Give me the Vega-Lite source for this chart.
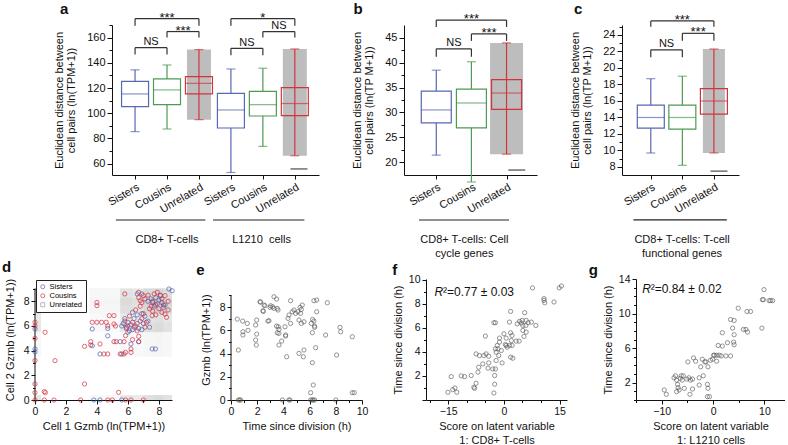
{
"$schema": "https://vega.github.io/schema/vega-lite/v6.json",
"padding": {"left": 2, "top": 2, "right": 0, "bottom": 0},
"spacing": 0,
"bounds": "full",
"resolve": {"scale": {"color": "independent", "shape": "independent"}, "legend": {"color": "independent", "shape": "independent"}},
"config": {
  "view": {"stroke": null},
  "font": "Liberation Sans",
  "axis": {"labelFont": "Liberation Sans", "titleFont": "Liberation Sans", "labelFontSize": 10.5, "titleFontSize": 11, "titleFontWeight": "normal", "labelColor": "#111", "titleColor": "#111", "domainColor": "#111", "tickColor": "#111", "grid": false, "tickSize": 4, "labelPadding": 2, "labelOverlap": false, "labelBound": false, "labelFlush": false, "tickCount": 100},
  "text": {"font": "Liberation Sans", "color": "#111"}
},
"vconcat": [
 {"spacing": 0, "bounds": "flush",
  "resolve": {"scale": {"color": "independent", "shape": "independent"}, "legend": {"color": "independent", "shape": "independent"}},
  "hconcat": [
 {"width": 77, "height": 150, "data": {"values": []}, "mark": "point"},
 {"width": 207, "height": 150,
  "data": {"values": [
    {"x":1,"grp":"Sisters","min":85.4,"q1":105.2,"med":115.3,"q3":125.3,"max":134.4},
    {"x":2,"grp":"Cousins","min":87.5,"q1":106.8,"med":118.5,"q3":127.2,"max":138.3},
    {"x":3,"grp":"Unrelated","min":94.9,"q1":115.3,"med":123.7,"q3":129,"max":150.5},
    {"x":4,"grp":"Sisters","min":53,"q1":88.3,"med":102.6,"q3":115.8,"max":135.1},
    {"x":5,"grp":"Cousins","min":73.7,"q1":97.8,"med":106.8,"q3":117.4,"max":135.7},
    {"x":6,"grp":"Unrelated","min":66.3,"q1":98.1,"med":107.7,"q3":120.3,"max":151}]},
  "layer": [
   {"transform": [{"filter": "datum.grp == 'Unrelated'"}], "mark": {"type": "bar", "size": 24, "color": "#bdbdbd"},
    "encoding": {
     "x": {"field": "x", "type": "quantitative", "scale": {"domain": [0.435, 6.6], "nice": false, "zero": false}, "axis": {"values": [1,2,3,4,5,6], "tickCount": 100, "labelExpr": "['Sisters','Cousins','Unrelated'][(datum.value - 1) % 3]", "labelAngle": -30, "labelAlign": "right", "labelBaseline": "top", "labelFontSize": 11, "labelOverlap": false, "title": null}},
     "y": {"field": "min", "type": "quantitative", "scale": {"domain": [51, 170], "nice": false, "zero": false}, "axis": {"values": [60,70,80,90,100,110,120,130,140,150,160,170], "tickCount": 100, "format": "d", "labelExpr": "datum.value % 20 == 0 ? datum.label : ''", "tickSize": {"condition": {"test": "datum.value % 20 == 0", "value": 5}, "value": 3}, "labelFontSize": 11, "labelOverlap": false, "title": ["Euclidean distance between", "cell pairs (ln(TPM+1))"], "titlePadding": 10, "titleLineHeight": 12.5}},
     "y2": {"field": "max"}}},
   {"mark": {"type": "rule", "strokeWidth": 1.2}, "encoding": {"x": {"field": "x", "type": "quantitative"}, "y": {"field": "min", "type": "quantitative"}, "y2": {"field": "q1"}, "color": {"field": "grp", "type": "nominal", "scale": {"domain": ["Sisters","Cousins","Unrelated"], "range": ["#5767b3","#4d9a52","#d2343e"]}, "legend": null}}},
   {"mark": {"type": "rule", "strokeWidth": 1.2}, "encoding": {"x": {"field": "x", "type": "quantitative"}, "y": {"field": "q3", "type": "quantitative"}, "y2": {"field": "max"}, "color": {"field": "grp", "type": "nominal", "legend": null}}},
   {"transform": [{"filter": "datum.grp == 'Unrelated'"}], "mark": {"type": "rule", "strokeWidth": 1.2}, "encoding": {"x": {"field": "x", "type": "quantitative"}, "y": {"field": "q1", "type": "quantitative"}, "y2": {"field": "q3"}, "color": {"field": "grp", "type": "nominal", "legend": null}}},
   {"mark": {"type": "bar", "size": 27, "filled": false, "strokeWidth": 1.2}, "encoding": {"x": {"field": "x", "type": "quantitative"}, "y": {"field": "q1", "type": "quantitative"}, "y2": {"field": "q3"}, "color": {"field": "grp", "type": "nominal", "legend": null}}},
   {"mark": {"type": "tick", "orient": "horizontal", "size": 27, "thickness": 1.2}, "encoding": {"x": {"field": "x", "type": "quantitative"}, "y": {"field": "med", "type": "quantitative"}, "color": {"field": "grp", "type": "nominal", "legend": null}}},
   {"mark": {"type": "tick", "orient": "horizontal", "size": 9, "thickness": 1.2}, "encoding": {"x": {"field": "x", "type": "quantitative"}, "y": {"field": "min", "type": "quantitative"}, "color": {"field": "grp", "type": "nominal", "legend": null}}},
   {"mark": {"type": "tick", "orient": "horizontal", "size": 9, "thickness": 1.2}, "encoding": {"x": {"field": "x", "type": "quantitative"}, "y": {"field": "max", "type": "quantitative"}, "color": {"field": "grp", "type": "nominal", "legend": null}}},
   {"data": {"values": [{"x": 6.13, "y": 55.8}]}, "mark": {"type": "tick", "orient": "horizontal", "size": 17, "thickness": 1.3, "color": "#111"}, "encoding": {"x": {"field": "x", "type": "quantitative"}, "y": {"field": "y", "type": "quantitative"}}},
   {"data": {"values": [
     {"x1":1,"x2":3,"y":175,"yb":169.5,"label":"***","lx":2},
     {"x1":2,"x2":3,"y":164.8,"yb":160,"label":"***","lx":2.5},
     {"x1":1,"x2":2,"y":152,"yb":146.5,"label":"NS","lx":1.5},
     {"x1":4,"x2":6,"y":175,"yb":169.5,"label":"*","lx":5},
     {"x1":5,"x2":6,"y":164.8,"yb":160,"label":"NS","lx":5.5},
     {"x1":4,"x2":5,"y":151.5,"yb":146,"label":"NS","lx":4.5}]},
    "layer": [
     {"mark": {"type": "rule", "strokeWidth": 1.2, "color": "#333"}, "encoding": {"x": {"field": "x1", "type": "quantitative"}, "x2": {"field": "x2"}, "y": {"field": "y", "type": "quantitative"}}},
     {"mark": {"type": "rule", "strokeWidth": 1.2, "color": "#333"}, "encoding": {"x": {"field": "x1", "type": "quantitative"}, "y": {"field": "y", "type": "quantitative"}, "y2": {"field": "yb"}}},
     {"mark": {"type": "rule", "strokeWidth": 1.2, "color": "#333"}, "encoding": {"x": {"field": "x2", "type": "quantitative"}, "y": {"field": "y", "type": "quantitative"}, "y2": {"field": "yb"}}},
     {"transform": [{"filter": "datum.label == 'NS'"}], "mark": {"type": "text", "fontSize": 11, "dy": -2.5, "baseline": "alphabetic"}, "encoding": {"x": {"field": "lx", "type": "quantitative"}, "y": {"field": "y", "type": "quantitative"}, "text": {"field": "label"}}},
     {"transform": [{"filter": "datum.label != 'NS'"}], "mark": {"type": "text", "fontSize": 13, "dy": 3, "baseline": "alphabetic"}, "encoding": {"x": {"field": "lx", "type": "quantitative"}, "y": {"field": "y", "type": "quantitative"}, "text": {"field": "label"}}}
    ]},
   {"data": {"values": [
     {"x1":0.4,"x2":3.2,"y":15.3,"lx":2,"ly":-2.95,"label":"CD8+ T-cells"},
     {"x1":3.44,"x2":6.3,"y":15.3,"lx":4.96,"ly":-2.95,"label":"L1210\u00a0 cells"}]},
    "layer": [
     {"mark": {"type": "rule", "strokeWidth": 1.2, "color": "#222"}, "encoding": {"x": {"field": "x1", "type": "quantitative"}, "x2": {"field": "x2"}, "y": {"field": "y", "type": "quantitative"}}},
     {"mark": {"type": "text", "fontSize": 11, "baseline": "alphabetic", "align": "center"}, "encoding": {"x": {"field": "lx", "type": "quantitative"}, "y": {"field": "ly", "type": "quantitative"}, "text": {"field": "label"}}}
    ]},
   {"data": {"values": [{"x": -1.35, "y": 178.7, "t": "a"}]}, "mark": {"type": "text", "fontSize": 15, "fontWeight": "bold", "align": "left", "baseline": "alphabetic"}, "encoding": {"x": {"field": "x", "type": "quantitative"}, "y": {"field": "y", "type": "quantitative"}, "text": {"field": "t"}}}
  ]},
 {"width": 85, "height": 150, "data": {"values": []}, "mark": "point"},
 {"width": 133, "height": 150,
  "data": {"values": [
    {"x":1,"grp":"Sisters","min":21.4,"q1":27.9,"med":30.5,"q3":34.3,"max":38.5},
    {"x":2,"grp":"Cousins","min":16.0,"q1":26.9,"med":31.9,"q3":34.7,"max":40.2},
    {"x":3,"grp":"Unrelated","min":21.6,"q1":30.6,"med":33.9,"q3":36.6,"max":44.0}]},
  "layer": [
   {"transform": [{"filter": "datum.grp == 'Unrelated'"}], "mark": {"type": "bar", "size": 33, "color": "#bdbdbd"},
    "encoding": {
     "x": {"field": "x", "type": "quantitative", "scale": {"domain": [0.224, 3.724], "nice": false, "zero": false}, "axis": {"values": [1,2,3], "tickCount": 100, "labelExpr": "['Sisters','Cousins','Unrelated'][(datum.value - 1) % 3]", "labelAngle": -30, "labelAlign": "right", "labelBaseline": "top", "labelFontSize": 11, "labelOverlap": false, "title": null}},
     "y": {"field": "min", "type": "quantitative", "scale": {"domain": [17.4, 47.6], "nice": false, "zero": false}, "axis": {"values": [20,22.5,25,27.5,30,32.5,35,37.5,40,42.5,45], "tickCount": 100, "format": "d", "labelExpr": "datum.value % 5 == 0 ? datum.label : ''", "tickSize": {"condition": {"test": "datum.value % 5 == 0", "value": 5}, "value": 3}, "labelFontSize": 11, "labelOverlap": false, "title": ["Euclidean distance between", "cell pairs (ln(TP M+1))"], "titlePadding": 10, "titleLineHeight": 12.5}},
     "y2": {"field": "max"}}},
   {"mark": {"type": "rule", "strokeWidth": 1.2}, "encoding": {"x": {"field": "x", "type": "quantitative"}, "y": {"field": "min", "type": "quantitative"}, "y2": {"field": "q1"}, "color": {"field": "grp", "type": "nominal", "scale": {"domain": ["Sisters","Cousins","Unrelated"], "range": ["#5767b3","#4d9a52","#d2343e"]}, "legend": null}}},
   {"mark": {"type": "rule", "strokeWidth": 1.2}, "encoding": {"x": {"field": "x", "type": "quantitative"}, "y": {"field": "q3", "type": "quantitative"}, "y2": {"field": "max"}, "color": {"field": "grp", "type": "nominal", "legend": null}}},
   {"transform": [{"filter": "datum.grp == 'Unrelated'"}], "mark": {"type": "rule", "strokeWidth": 1.2}, "encoding": {"x": {"field": "x", "type": "quantitative"}, "y": {"field": "q1", "type": "quantitative"}, "y2": {"field": "q3"}, "color": {"field": "grp", "type": "nominal", "legend": null}}},
   {"mark": {"type": "bar", "size": 30, "filled": false, "strokeWidth": 1.2}, "encoding": {"x": {"field": "x", "type": "quantitative"}, "y": {"field": "q1", "type": "quantitative"}, "y2": {"field": "q3"}, "color": {"field": "grp", "type": "nominal", "legend": null}}},
   {"mark": {"type": "tick", "orient": "horizontal", "size": 30, "thickness": 1.2}, "encoding": {"x": {"field": "x", "type": "quantitative"}, "y": {"field": "med", "type": "quantitative"}, "color": {"field": "grp", "type": "nominal", "legend": null}}},
   {"mark": {"type": "tick", "orient": "horizontal", "size": 9, "thickness": 1.2}, "encoding": {"x": {"field": "x", "type": "quantitative"}, "y": {"field": "min", "type": "quantitative"}, "color": {"field": "grp", "type": "nominal", "legend": null}}},
   {"mark": {"type": "tick", "orient": "horizontal", "size": 9, "thickness": 1.2}, "encoding": {"x": {"field": "x", "type": "quantitative"}, "y": {"field": "max", "type": "quantitative"}, "color": {"field": "grp", "type": "nominal", "legend": null}}},
   {"data": {"values": [{"x": 3.29, "y": 18.4}]}, "mark": {"type": "tick", "orient": "horizontal", "size": 17, "thickness": 1.3, "color": "#111"}, "encoding": {"x": {"field": "x", "type": "quantitative"}, "y": {"field": "y", "type": "quantitative"}}},
   {"data": {"values": [
     {"x1":1,"x2":3,"y":48.6,"yb":47.2,"label":"***","lx":2},
     {"x1":2,"x2":3,"y":45.8,"yb":44.4,"label":"***","lx":2.5},
     {"x1":1,"x2":2,"y":42.8,"yb":41.2,"label":"NS","lx":1.5}]},
    "layer": [
     {"mark": {"type": "rule", "strokeWidth": 1.2, "color": "#333"}, "encoding": {"x": {"field": "x1", "type": "quantitative"}, "x2": {"field": "x2"}, "y": {"field": "y", "type": "quantitative"}}},
     {"mark": {"type": "rule", "strokeWidth": 1.2, "color": "#333"}, "encoding": {"x": {"field": "x1", "type": "quantitative"}, "y": {"field": "y", "type": "quantitative"}, "y2": {"field": "yb"}}},
     {"mark": {"type": "rule", "strokeWidth": 1.2, "color": "#333"}, "encoding": {"x": {"field": "x2", "type": "quantitative"}, "y": {"field": "y", "type": "quantitative"}, "y2": {"field": "yb"}}},
     {"transform": [{"filter": "datum.label == 'NS'"}], "mark": {"type": "text", "fontSize": 11, "dy": -2.5, "baseline": "alphabetic"}, "encoding": {"x": {"field": "lx", "type": "quantitative"}, "y": {"field": "y", "type": "quantitative"}, "text": {"field": "label"}}},
     {"transform": [{"filter": "datum.label != 'NS'"}], "mark": {"type": "text", "fontSize": 13, "dy": 3, "baseline": "alphabetic"}, "encoding": {"x": {"field": "lx", "type": "quantitative"}, "y": {"field": "y", "type": "quantitative"}, "text": {"field": "label"}}}
    ]},
   {"data": {"values": [{"x1":0.51,"x2":3.07,"y":8.34,"lx":1.8,"ly":3.71,"label":"CD8+ T-cells: Cell\ncycle genes"}]},
    "layer": [
     {"mark": {"type": "rule", "strokeWidth": 1.2, "color": "#222"}, "encoding": {"x": {"field": "x1", "type": "quantitative"}, "x2": {"field": "x2"}, "y": {"field": "y", "type": "quantitative"}}},
     {"mark": {"type": "text", "fontSize": 11, "baseline": "alphabetic", "align": "center", "lineBreak": "\n", "lineHeight": 14}, "encoding": {"x": {"field": "lx", "type": "quantitative"}, "y": {"field": "ly", "type": "quantitative"}, "text": {"field": "label"}}}
    ]},
   {"data": {"values": [{"x": -1.355, "y": 49.8, "t": "b"}]}, "mark": {"type": "text", "fontSize": 15, "fontWeight": "bold", "align": "left", "baseline": "alphabetic"}, "encoding": {"x": {"field": "x", "type": "quantitative"}, "y": {"field": "y", "type": "quantitative"}, "text": {"field": "t"}}}
  ]},
 {"width": 85, "height": 150, "data": {"values": []}, "mark": "point"},
 {"width": 117, "height": 150,
  "data": {"values": [
    {"x":1,"grp":"Sisters","min":9.7,"q1":12.7,"med":14.0,"q3":15.5,"max":18.7},
    {"x":2,"grp":"Cousins","min":8.2,"q1":12.6,"med":14.0,"q3":15.5,"max":19.0},
    {"x":3,"grp":"Unrelated","min":9.7,"q1":14.4,"med":16.0,"q3":17.5,"max":22.3}]},
  "layer": [
   {"transform": [{"filter": "datum.grp == 'Unrelated'"}], "mark": {"type": "bar", "size": 22, "color": "#bdbdbd"},
    "encoding": {
     "x": {"field": "x", "type": "quantitative", "scale": {"domain": [0.246, 3.637], "nice": false, "zero": false}, "axis": {"values": [1,2,3], "tickCount": 100, "labelExpr": "['Sisters','Cousins','Unrelated'][(datum.value - 1) % 3]", "labelAngle": -30, "labelAlign": "right", "labelBaseline": "top", "labelFontSize": 11, "labelOverlap": false, "title": null}},
     "y": {"field": "min", "type": "quantitative", "scale": {"domain": [7.03, 25.21], "nice": false, "zero": false}, "axis": {"values": [8,9,10,11,12,13,14,15,16,17,18,19,20,21,22,23,24,25], "tickCount": 100, "format": "d", "labelExpr": "datum.value % 2 == 0 ? datum.label : ''", "tickSize": {"condition": {"test": "datum.value % 2 == 0", "value": 5}, "value": 3}, "labelFontSize": 11, "labelOverlap": false, "title": ["Euclidean distance between", "cell pairs (ln(TP M+1))"], "titlePadding": 10, "titleLineHeight": 12.5}},
     "y2": {"field": "max"}}},
   {"mark": {"type": "rule", "strokeWidth": 1.2}, "encoding": {"x": {"field": "x", "type": "quantitative"}, "y": {"field": "min", "type": "quantitative"}, "y2": {"field": "q1"}, "color": {"field": "grp", "type": "nominal", "scale": {"domain": ["Sisters","Cousins","Unrelated"], "range": ["#5767b3","#4d9a52","#d2343e"]}, "legend": null}}},
   {"mark": {"type": "rule", "strokeWidth": 1.2}, "encoding": {"x": {"field": "x", "type": "quantitative"}, "y": {"field": "q3", "type": "quantitative"}, "y2": {"field": "max"}, "color": {"field": "grp", "type": "nominal", "legend": null}}},
   {"transform": [{"filter": "datum.grp == 'Unrelated'"}], "mark": {"type": "rule", "strokeWidth": 1.2}, "encoding": {"x": {"field": "x", "type": "quantitative"}, "y": {"field": "q1", "type": "quantitative"}, "y2": {"field": "q3"}, "color": {"field": "grp", "type": "nominal", "legend": null}}},
   {"mark": {"type": "bar", "size": 27, "filled": false, "strokeWidth": 1.2}, "encoding": {"x": {"field": "x", "type": "quantitative"}, "y": {"field": "q1", "type": "quantitative"}, "y2": {"field": "q3"}, "color": {"field": "grp", "type": "nominal", "legend": null}}},
   {"mark": {"type": "tick", "orient": "horizontal", "size": 27, "thickness": 1.2}, "encoding": {"x": {"field": "x", "type": "quantitative"}, "y": {"field": "med", "type": "quantitative"}, "color": {"field": "grp", "type": "nominal", "legend": null}}},
   {"mark": {"type": "tick", "orient": "horizontal", "size": 9, "thickness": 1.2}, "encoding": {"x": {"field": "x", "type": "quantitative"}, "y": {"field": "min", "type": "quantitative"}, "color": {"field": "grp", "type": "nominal", "legend": null}}},
   {"mark": {"type": "tick", "orient": "horizontal", "size": 9, "thickness": 1.2}, "encoding": {"x": {"field": "x", "type": "quantitative"}, "y": {"field": "max", "type": "quantitative"}, "color": {"field": "grp", "type": "nominal", "legend": null}}},
   {"data": {"values": [{"x": 3.16, "y": 7.5}]}, "mark": {"type": "tick", "orient": "horizontal", "size": 17, "thickness": 1.3, "color": "#111"}, "encoding": {"x": {"field": "x", "type": "quantitative"}, "y": {"field": "y", "type": "quantitative"}}},
   {"data": {"values": [
     {"x1":1,"x2":3,"y":25.7,"yb":25.0,"label":"***","lx":2},
     {"x1":2,"x2":3,"y":24.2,"yb":23.3,"label":"***","lx":2.5},
     {"x1":1,"x2":2,"y":22.2,"yb":21.3,"label":"NS","lx":1.5}]},
    "layer": [
     {"mark": {"type": "rule", "strokeWidth": 1.2, "color": "#333"}, "encoding": {"x": {"field": "x1", "type": "quantitative"}, "x2": {"field": "x2"}, "y": {"field": "y", "type": "quantitative"}}},
     {"mark": {"type": "rule", "strokeWidth": 1.2, "color": "#333"}, "encoding": {"x": {"field": "x1", "type": "quantitative"}, "y": {"field": "y", "type": "quantitative"}, "y2": {"field": "yb"}}},
     {"mark": {"type": "rule", "strokeWidth": 1.2, "color": "#333"}, "encoding": {"x": {"field": "x2", "type": "quantitative"}, "y": {"field": "y", "type": "quantitative"}, "y2": {"field": "yb"}}},
     {"transform": [{"filter": "datum.label == 'NS'"}], "mark": {"type": "text", "fontSize": 11, "dy": -2.5, "baseline": "alphabetic"}, "encoding": {"x": {"field": "lx", "type": "quantitative"}, "y": {"field": "y", "type": "quantitative"}, "text": {"field": "label"}}},
     {"transform": [{"filter": "datum.label != 'NS'"}], "mark": {"type": "text", "fontSize": 13, "dy": 3, "baseline": "alphabetic"}, "encoding": {"x": {"field": "lx", "type": "quantitative"}, "y": {"field": "y", "type": "quantitative"}, "text": {"field": "label"}}}
    ]},
   {"data": {"values": [{"x1":0.45,"x2":3.41,"y":1.58,"lx":1.99,"ly":-1.21,"label":"CD8+ T-cells: T-cell\nfunctional genes"}]},
    "layer": [
     {"mark": {"type": "rule", "strokeWidth": 1.2, "color": "#222"}, "encoding": {"x": {"field": "x1", "type": "quantitative"}, "x2": {"field": "x2"}, "y": {"field": "y", "type": "quantitative"}}},
     {"mark": {"type": "text", "fontSize": 11, "baseline": "alphabetic", "align": "center", "lineBreak": "\n", "lineHeight": 14}, "encoding": {"x": {"field": "lx", "type": "quantitative"}, "y": {"field": "ly", "type": "quantitative"}, "text": {"field": "label"}}}
    ]},
   {"data": {"values": [{"x": -1.43, "y": 26.53, "t": "c"}]}, "mark": {"type": "text", "fontSize": 15, "fontWeight": "bold", "align": "left", "baseline": "alphabetic"}, "encoding": {"x": {"field": "x", "type": "quantitative"}, "y": {"field": "y", "type": "quantitative"}, "text": {"field": "t"}}}
  ]}
 ]},
 {"spacing": 0, "bounds": "flush",
  "resolve": {"scale": {"color": "independent", "shape": "independent"}, "legend": {"color": "independent", "shape": "independent"}},
  "hconcat": [
 {"width": 137, "height": 121,
  "layer": [
   {"data": {"values": [
     {"x1":0,"x2":0.4,"y1":0,"y2":0.4,"o":0.098},{"x1":3.5,"x2":5.5,"y1":0,"y2":0.4,"o":0.028},{"x1":5.5,"x2":6.3,"y1":0,"y2":0.4,"o":0.098},{"x1":6.3,"x2":7.0,"y1":0,"y2":0.4,"o":0.084},{"x1":7.0,"x2":7.7,"y1":0,"y2":0.4,"o":0.126},{"x1":7.7,"x2":8.3,"y1":0,"y2":0.4,"o":0.14},{"x1":8.3,"x2":8.85,"y1":0,"y2":0.4,"o":0.112},
     {"x1":0,"x2":0.4,"y1":3.5,"y2":5.5,"o":0.028},{"x1":3.5,"x2":5.5,"y1":3.5,"y2":5.5,"o":0.008},{"x1":5.5,"x2":6.3,"y1":3.5,"y2":5.5,"o":0.028},{"x1":6.3,"x2":7.0,"y1":3.5,"y2":5.5,"o":0.024},{"x1":7.0,"x2":7.7,"y1":3.5,"y2":5.5,"o":0.036},{"x1":7.7,"x2":8.3,"y1":3.5,"y2":5.5,"o":0.04},{"x1":8.3,"x2":8.85,"y1":3.5,"y2":5.5,"o":0.032},
     {"x1":0,"x2":0.4,"y1":5.5,"y2":6.3,"o":0.098},{"x1":3.5,"x2":5.5,"y1":5.5,"y2":6.3,"o":0.028},{"x1":5.5,"x2":6.3,"y1":5.5,"y2":6.3,"o":0.098},{"x1":6.3,"x2":7.0,"y1":5.5,"y2":6.3,"o":0.084},{"x1":7.0,"x2":7.7,"y1":5.5,"y2":6.3,"o":0.126},{"x1":7.7,"x2":8.3,"y1":5.5,"y2":6.3,"o":0.14},{"x1":8.3,"x2":8.85,"y1":5.5,"y2":6.3,"o":0.112},
     {"x1":0,"x2":0.4,"y1":6.3,"y2":7.0,"o":0.084},{"x1":3.5,"x2":5.5,"y1":6.3,"y2":7.0,"o":0.024},{"x1":5.5,"x2":6.3,"y1":6.3,"y2":7.0,"o":0.084},{"x1":6.3,"x2":7.0,"y1":6.3,"y2":7.0,"o":0.072},{"x1":7.0,"x2":7.7,"y1":6.3,"y2":7.0,"o":0.108},{"x1":7.7,"x2":8.3,"y1":6.3,"y2":7.0,"o":0.12},{"x1":8.3,"x2":8.85,"y1":6.3,"y2":7.0,"o":0.096},
     {"x1":0,"x2":0.4,"y1":7.0,"y2":7.7,"o":0.126},{"x1":3.5,"x2":5.5,"y1":7.0,"y2":7.7,"o":0.036},{"x1":5.5,"x2":6.3,"y1":7.0,"y2":7.7,"o":0.126},{"x1":6.3,"x2":7.0,"y1":7.0,"y2":7.7,"o":0.108},{"x1":7.0,"x2":7.7,"y1":7.0,"y2":7.7,"o":0.162},{"x1":7.7,"x2":8.3,"y1":7.0,"y2":7.7,"o":0.18},{"x1":8.3,"x2":8.85,"y1":7.0,"y2":7.7,"o":0.144},
     {"x1":0,"x2":0.4,"y1":7.7,"y2":8.3,"o":0.14},{"x1":3.5,"x2":5.5,"y1":7.7,"y2":8.3,"o":0.04},{"x1":5.5,"x2":6.3,"y1":7.7,"y2":8.3,"o":0.14},{"x1":6.3,"x2":7.0,"y1":7.7,"y2":8.3,"o":0.12},{"x1":7.0,"x2":7.7,"y1":7.7,"y2":8.3,"o":0.18},{"x1":7.7,"x2":8.3,"y1":7.7,"y2":8.3,"o":0.2},{"x1":8.3,"x2":8.85,"y1":7.7,"y2":8.3,"o":0.16},
     {"x1":0,"x2":0.4,"y1":8.3,"y2":9.05,"o":0.112},{"x1":3.5,"x2":5.5,"y1":8.3,"y2":9.05,"o":0.032},{"x1":5.5,"x2":6.3,"y1":8.3,"y2":9.05,"o":0.112},{"x1":6.3,"x2":7.0,"y1":8.3,"y2":9.05,"o":0.096},{"x1":7.0,"x2":7.7,"y1":8.3,"y2":9.05,"o":0.144},{"x1":7.7,"x2":8.3,"y1":8.3,"y2":9.05,"o":0.16},{"x1":8.3,"x2":8.85,"y1":8.3,"y2":9.05,"o":0.128}]},
    "mark": {"type": "rect", "color": "#000"},
    "encoding": {
     "x": {"field": "x1", "type": "quantitative", "scale": {"domain": [0, 8.85], "nice": false, "zero": false}, "axis": {"values": [0,1,2,3,4,5,6,7,8], "tickCount": 100, "format": "d", "labelExpr": "datum.value % 2 == 0 ? datum.label : ''", "tickSize": {"condition": {"test": "datum.value % 2 == 0", "value": 4}, "value": 2.5}, "labelOverlap": false, "title": "Cell 1 Gzmb (ln(TPM+1))"}},
     "x2": {"field": "x2"},
     "y": {"field": "y1", "type": "quantitative", "scale": {"domain": [0, 9.81], "nice": false, "zero": false}, "axis": {"values": [0,1,2,3,4,5,6,7,8,9], "tickCount": 100, "format": "d", "labelExpr": "datum.value % 2 == 0 ? datum.label : ''", "tickSize": {"condition": {"test": "datum.value % 2 == 0", "value": 4}, "value": 2.5}, "labelOverlap": false, "domain": false, "title": "Cell 2 Gzmb (ln(TPM+1))", "titlePadding": 8}},
     "y2": {"field": "y2"},
     "opacity": {"field": "o", "type": "quantitative", "scale": null}}},
   {"data": {"values": [{}]}, "mark": {"type": "rule", "color": "#111", "strokeWidth": 1}, "encoding": {"x": {"datum": 0, "type": "quantitative"}, "y": {"datum": 0, "type": "quantitative"}, "y2": {"datum": 9.05}}},
   {"data": {"values": [
     {"x":0,"y":5.76,"grp":"Sisters"},{"x":0,"y":4.14,"grp":"Sisters"},{"x":0,"y":3.9,"grp":"Sisters"},{"x":3.8,"y":0,"grp":"Sisters"},{"x":4.2,"y":0,"grp":"Sisters"},{"x":5.6,"y":0,"grp":"Sisters"},{"x":3.7,"y":5.76,"grp":"Sisters"},{"x":3.7,"y":4.4,"grp":"Sisters"},{"x":4.2,"y":3.73,"grp":"Sisters"},{"x":4.7,"y":5.2,"grp":"Sisters"},{"x":4.7,"y":5.8,"grp":"Sisters"},{"x":5.5,"y":4.73,"grp":"Sisters"},{"x":5.6,"y":3.73,"grp":"Sisters"},{"x":6.2,"y":4.54,"grp":"Sisters"},{"x":5.6,"y":6.0,"grp":"Sisters"},{"x":6.6,"y":8.6,"grp":"Sisters"},{"x":6.9,"y":8.6,"grp":"Sisters"},{"x":8.65,"y":9.0,"grp":"Sisters"},{"x":8.86,"y":8.86,"grp":"Sisters"},{"x":7.57,"y":4.14,"grp":"Sisters"},{"x":7.78,"y":4.14,"grp":"Sisters"},{"x":6.7,"y":4.73,"grp":"Sisters"},{"x":7.5,"y":8.2,"grp":"Sisters"},{"x":7.7,"y":7.6,"grp":"Sisters"},{"x":7.9,"y":7.8,"grp":"Sisters"},{"x":8.0,"y":8.1,"grp":"Sisters"},{"x":8.2,"y":7.9,"grp":"Sisters"},{"x":8.3,"y":7.5,"grp":"Sisters"},{"x":7.6,"y":7.9,"grp":"Sisters"},{"x":8.1,"y":8.5,"grp":"Sisters"},{"x":7.3,"y":8.0,"grp":"Sisters"},{"x":7.8,"y":8.3,"grp":"Sisters"},{"x":8.4,"y":7.7,"grp":"Sisters"},{"x":5.9,"y":5.9,"grp":"Sisters"},{"x":6.0,"y":6.3,"grp":"Sisters"},{"x":6.2,"y":6.1,"grp":"Sisters"},{"x":6.3,"y":5.7,"grp":"Sisters"},{"x":6.4,"y":6.6,"grp":"Sisters"},{"x":6.5,"y":6.0,"grp":"Sisters"},{"x":6.6,"y":6.9,"grp":"Sisters"},{"x":6.8,"y":6.4,"grp":"Sisters"},{"x":6.9,"y":7.0,"grp":"Sisters"},{"x":7.0,"y":6.2,"grp":"Sisters"},{"x":6.1,"y":5.6,"grp":"Sisters"},{"x":6.7,"y":5.8,"grp":"Sisters"},{"x":5.8,"y":6.6,"grp":"Sisters"},{"x":6.3,"y":7.1,"grp":"Sisters"},{"x":7.1,"y":6.8,"grp":"Sisters"},{"x":5.7,"y":6.2,"grp":"Sisters"},{"x":6.0,"y":5.5,"grp":"Sisters"},{"x":6.9,"y":5.7,"grp":"Sisters"},{"x":7.3,"y":6.4,"grp":"Sisters"},{"x":7.4,"y":5.9,"grp":"Sisters"},
     {"x":0,"y":6.3,"grp":"Cousins"},{"x":0,"y":6.0,"grp":"Cousins"},{"x":0,"y":5.0,"grp":"Cousins"},{"x":0,"y":3.2,"grp":"Cousins"},{"x":0,"y":1.3,"grp":"Cousins"},{"x":0,"y":0.6,"grp":"Cousins"},{"x":0,"y":0,"grp":"Cousins"},{"x":0.65,"y":5.49,"grp":"Cousins"},{"x":1.29,"y":3.19,"grp":"Cousins"},{"x":0.6,"y":0.68,"grp":"Cousins"},{"x":0.67,"y":0.6,"grp":"Cousins"},{"x":0.6,"y":0,"grp":"Cousins"},{"x":1.23,"y":0,"grp":"Cousins"},{"x":3.2,"y":4.35,"grp":"Cousins"},{"x":3.2,"y":1.3,"grp":"Cousins"},{"x":2.95,"y":0,"grp":"Cousins"},{"x":4.7,"y":0,"grp":"Cousins"},{"x":5.4,"y":0.62,"grp":"Cousins"},{"x":5.0,"y":0,"grp":"Cousins"},{"x":5.85,"y":0,"grp":"Cousins"},{"x":6.2,"y":0,"grp":"Cousins"},{"x":7.0,"y":0,"grp":"Cousins"},
     {"x":4.0,"y":7.9,"grp":"Cousins"},{"x":4.0,"y":7.65,"grp":"Cousins"},{"x":3.7,"y":6.3,"grp":"Cousins"},{"x":4.0,"y":6.3,"grp":"Cousins"},{"x":4.3,"y":6.3,"grp":"Cousins"},{"x":3.6,"y":4.73,"grp":"Cousins"},{"x":3.6,"y":4.46,"grp":"Cousins"},{"x":4.2,"y":4.54,"grp":"Cousins"},{"x":4.45,"y":3.73,"grp":"Cousins"},{"x":4.7,"y":3.73,"grp":"Cousins"},{"x":4.7,"y":6.0,"grp":"Cousins"},{"x":4.8,"y":6.84,"grp":"Cousins"},{"x":5.1,"y":6.84,"grp":"Cousins"},{"x":4.6,"y":6.3,"grp":"Cousins"},{"x":5.2,"y":6.0,"grp":"Cousins"},{"x":5.25,"y":4.73,"grp":"Cousins"},{"x":5.1,"y":4.73,"grp":"Cousins"},{"x":5.75,"y":4.73,"grp":"Cousins"},{"x":5.5,"y":3.73,"grp":"Cousins"},{"x":5.75,"y":3.73,"grp":"Cousins"},{"x":5.85,"y":3.86,"grp":"Cousins"},{"x":6.2,"y":3.86,"grp":"Cousins"},{"x":6.2,"y":4.14,"grp":"Cousins"},{"x":6.3,"y":4.89,"grp":"Cousins"},{"x":5.85,"y":5.22,"grp":"Cousins"},{"x":5.1,"y":6.16,"grp":"Cousins"},{"x":5.8,"y":8.6,"grp":"Cousins"},{"x":6.7,"y":8.73,"grp":"Cousins"},{"x":6.7,"y":8.3,"grp":"Cousins"},{"x":6.8,"y":8.05,"grp":"Cousins"},{"x":7.0,"y":8.46,"grp":"Cousins"},{"x":7.9,"y":8.73,"grp":"Cousins"},{"x":8.1,"y":8.46,"grp":"Cousins"},{"x":8.4,"y":8.46,"grp":"Cousins"},{"x":8.4,"y":6.97,"grp":"Cousins"},{"x":7.57,"y":6.84,"grp":"Cousins"},{"x":8.3,"y":7.7,"grp":"Cousins"},{"x":6.7,"y":5.16,"grp":"Cousins"},{"x":6.7,"y":4.73,"grp":"Cousins"},
     {"x":5.8,"y":6.4,"grp":"Cousins"},{"x":6.0,"y":6.0,"grp":"Cousins"},{"x":6.1,"y":6.8,"grp":"Cousins"},{"x":6.3,"y":6.3,"grp":"Cousins"},{"x":6.5,"y":7.3,"grp":"Cousins"},{"x":6.6,"y":6.2,"grp":"Cousins"},{"x":6.8,"y":7.6,"grp":"Cousins"},{"x":6.9,"y":6.6,"grp":"Cousins"},{"x":7.0,"y":7.0,"grp":"Cousins"},{"x":7.2,"y":6.3,"grp":"Cousins"},{"x":7.4,"y":7.4,"grp":"Cousins"},{"x":7.6,"y":7.2,"grp":"Cousins"},{"x":5.9,"y":5.8,"grp":"Cousins"},{"x":6.4,"y":5.9,"grp":"Cousins"},{"x":6.6,"y":5.6,"grp":"Cousins"},{"x":7.1,"y":5.9,"grp":"Cousins"},{"x":7.8,"y":6.9,"grp":"Cousins"},{"x":8.0,"y":7.4,"grp":"Cousins"},{"x":8.2,"y":7.1,"grp":"Cousins"},{"x":8.6,"y":7.3,"grp":"Cousins"},{"x":8.6,"y":8.0,"grp":"Cousins"},{"x":8.5,"y":6.7,"grp":"Cousins"},{"x":7.3,"y":8.5,"grp":"Cousins"},{"x":7.6,"y":8.0,"grp":"Cousins"},{"x":7.7,"y":8.6,"grp":"Cousins"},{"x":8.2,"y":8.2,"grp":"Cousins"},{"x":7.8,"y":7.7,"grp":"Cousins"},{"x":6.9,"y":7.9,"grp":"Cousins"},{"x":7.1,"y":8.2,"grp":"Cousins"},{"x":7.5,"y":7.6,"grp":"Cousins"}]},
    "mark": {"type": "point", "filled": false, "size": 18, "strokeWidth": 1},
    "encoding": {
     "x": {"field": "x", "type": "quantitative"},
     "y": {"field": "y", "type": "quantitative"},
     "color": {"field": "grp", "type": "nominal", "scale": {"domain": ["Sisters","Cousins","Unrelated"], "range": ["#4a5cb0","#d22a3a","#9a9a9a"]}, "legend": {"orient": "top-left", "offset": 1, "title": null, "padding": 3, "strokeColor": "#222", "fillColor": "#fff", "labelFontSize": 7.5, "labelFont": "Liberation Sans", "symbolSize": 16, "rowPadding": 0, "labelOffset": 3, "symbolStrokeWidth": 1}},
     "shape": {"field": "grp", "type": "nominal", "scale": {"domain": ["Sisters","Cousins","Unrelated"], "range": ["circle","circle","square"]}, "legend": {"orient": "top-left", "offset": 1, "title": null, "padding": 3, "strokeColor": "#222", "fillColor": "#fff", "labelFontSize": 7.5, "labelFont": "Liberation Sans", "symbolSize": 16, "rowPadding": 0, "labelOffset": 3, "symbolStrokeWidth": 1}}}},
   {"data": {"values": [{"x": -2.13, "y": 10.38, "t": "d"}]}, "mark": {"type": "text", "fontSize": 15, "fontWeight": "bold", "align": "left", "baseline": "alphabetic"}, "encoding": {"x": {"field": "x", "type": "quantitative"}, "y": {"field": "y", "type": "quantitative"}, "text": {"field": "t"}}}
  ]},
 {"width": 59, "height": 121, "data": {"values": []}, "mark": "point"},
 {"width": 131, "height": 121,
  "layer": [
   {"data": {"values": [
     {"x":0.48,"y":6.96},{"x":0.56,"y":4.30},{"x":0.89,"y":6.79},{"x":0.91,"y":5.87},{"x":0.91,"y":5.59},{"x":1.24,"y":6.59},{"x":1.30,"y":5.99},{"x":1.88,"y":6.45},{"x":1.96,"y":6.88},{"x":1.88,"y":5.16},{"x":1.93,"y":4.73},{"x":1.96,"y":5.67},{"x":2.21,"y":8.45},{"x":2.26,"y":8.42},{"x":2.52,"y":8.17},{"x":2.59,"y":8.11},{"x":2.44,"y":7.68},{"x":2.47,"y":7.62},{"x":2.82,"y":6.79},{"x":2.90,"y":6.82},{"x":2.98,"y":7.97},{"x":3.03,"y":8.11},{"x":3.18,"y":8.02},{"x":3.28,"y":8.88},{"x":3.48,"y":8.68},{"x":3.28,"y":7.88},{"x":3.53,"y":7.88},{"x":3.59,"y":7.74},{"x":3.48,"y":6.36},{"x":3.61,"y":6.30},{"x":3.66,"y":6.07},{"x":3.53,"y":5.79},{"x":3.66,"y":5.73},{"x":3.66,"y":4.73},{"x":3.87,"y":5.07},{"x":4.17,"y":5.59},{"x":4.17,"y":5.50},{"x":4.12,"y":6.30},{"x":4.25,"y":3.72},{"x":4.35,"y":7.02},{"x":4.43,"y":7.31},{"x":4.55,"y":8.54},{"x":4.55,"y":6.59},{"x":4.68,"y":7.59},{"x":4.81,"y":7.74},{"x":4.93,"y":7.45},{"x":5.11,"y":7.59},{"x":5.19,"y":6.88},{"x":5.27,"y":7.97},{"x":5.37,"y":7.79},{"x":5.44,"y":8.17},{"x":5.31,"y":7.45},{"x":5.19,"y":4.01},{"x":5.37,"y":6.59},{"x":5.52,"y":3.72},{"x":5.57,"y":4.30},{"x":5.57,"y":6.73},{"x":6.13,"y":6.59},{"x":6.21,"y":5.79},{"x":6.23,"y":6.93},{"x":6.33,"y":6.79},{"x":6.33,"y":8.54},{"x":6.54,"y":8.60},{"x":6.38,"y":6.36},{"x":6.38,"y":6.25},{"x":6.46,"y":4.50},{"x":6.54,"y":7.59},{"x":6.21,"y":3.21},{"x":6.28,"y":1.29},{"x":6.08,"y":0.63},{"x":7.22,"y":5.59},{"x":7.35,"y":8.37},{"x":8.06,"y":3.87},{"x":8.32,"y":6.25},{"x":8.37,"y":5.87},{"x":9.26,"y":5.44},{"x":9.26,"y":0.63},{"x":9.41,"y":0.63},{"x":0.56,"y":0},{"x":0.66,"y":0},{"x":0.74,"y":0},{"x":3.92,"y":0},{"x":4.42,"y":0},{"x":4.5,"y":0},{"x":6.08,"y":0},{"x":6.2,"y":0},{"x":6.28,"y":0},{"x":6.38,"y":0},{"x":8.0,"y":0}]},
    "mark": {"type": "point", "filled": false, "size": 18, "strokeWidth": 0.9, "color": "#555"},
    "encoding": {
     "x": {"field": "x", "type": "quantitative", "scale": {"domain": [0, 10], "nice": false, "zero": false}, "axis": {"values": [0,1,2,3,4,5,6,7,8,9,10], "tickCount": 100, "format": "d", "labelExpr": "datum.value % 2 == 0 ? datum.label : ''", "tickSize": {"condition": {"test": "datum.value % 2 == 0", "value": 4}, "value": 2.5}, "labelOverlap": false, "title": "Time since division (h)"}},
     "y": {"field": "y", "type": "quantitative", "scale": {"domain": [0, 10.41], "nice": false, "zero": false}, "axis": {"values": [0,1,2,3,4,5,6,7,8,9], "tickCount": 100, "format": "d", "labelExpr": "datum.value % 2 == 0 ? datum.label : ''", "tickSize": {"condition": {"test": "datum.value % 2 == 0", "value": 4}, "value": 2.5}, "labelOverlap": false, "domain": false, "title": "Gzmb (ln(TPM+1))", "titlePadding": 8}}}},
   {"data": {"values": [{}]}, "mark": {"type": "rule", "color": "#111", "strokeWidth": 1}, "encoding": {"x": {"datum": 0, "type": "quantitative"}, "y": {"datum": 0, "type": "quantitative"}, "y2": {"datum": 9.0}}},
   {"data": {"values": [{"x": -2.65, "y": 10.75, "t": "e"}]}, "mark": {"type": "text", "fontSize": 15, "fontWeight": "bold", "align": "left", "baseline": "alphabetic"}, "encoding": {"x": {"field": "x", "type": "quantitative"}, "y": {"field": "y", "type": "quantitative"}, "text": {"field": "t"}}}
  ]},
 {"width": 64, "height": 121, "data": {"values": []}, "mark": "point"},
 {"width": 141, "height": 121,
  "layer": [
   {"data": {"values": [
     {"x":-15.1,"y":0.64},{"x":-13.8,"y":0.86},{"x":-13.2,"y":1.0},{"x":-12.7,"y":0.64},{"x":-14.2,"y":1.94},{"x":-11.5,"y":2.0},{"x":-10.6,"y":1.94},{"x":-8.8,"y":2.03},{"x":-8.1,"y":1.06},{"x":-7.9,"y":0.97},{"x":-7.5,"y":1.39},{"x":-7.0,"y":2.31},{"x":-6.8,"y":2.72},{"x":-7.5,"y":3.83},{"x":-6.6,"y":3.69},{"x":-5.4,"y":3.69},{"x":-5.7,"y":3.0},{"x":-4.3,"y":2.64},{"x":-4.8,"y":3.83},{"x":-4.1,"y":3.64},{"x":-4.1,"y":3.08},{"x":-5.0,"y":5.31},{"x":-2.7,"y":6.42},{"x":-2.3,"y":6.42},{"x":-3.0,"y":2.58},{"x":-2.5,"y":2.03},{"x":-2.5,"y":1.31},{"x":-2.7,"y":0.58},{"x":-2.3,"y":2.58},{"x":-2.1,"y":3.28},{"x":-2.3,"y":4.25},{"x":-2.1,"y":3.97},{"x":-1.8,"y":4.53},{"x":-1.6,"y":4.25},{"x":-1.4,"y":3.69},{"x":-1.2,"y":4.81},{"x":-1.2,"y":5.14},{"x":-0.5,"y":3.08},{"x":-0.7,"y":4.11},{"x":0,"y":5.5},{"x":0.6,"y":5.14},{"x":0.4,"y":4.61},{"x":0.6,"y":4.53},{"x":0.9,"y":4.39},{"x":1.5,"y":4.53},{"x":1.5,"y":6.47},{"x":1.8,"y":7.36},{"x":1.8,"y":5.58},{"x":2.2,"y":5.36},{"x":1.8,"y":3.56},{"x":2.4,"y":3.47},{"x":2.0,"y":4.94},{"x":2.2,"y":4.53},{"x":3.3,"y":4.89},{"x":4.1,"y":4.89},{"x":4.7,"y":6.39},{"x":5.6,"y":7.25},{"x":5.1,"y":5.78},{"x":5.4,"y":5.28},{"x":4.9,"y":6.61},{"x":5.1,"y":6.19},{"x":5.9,"y":6.19},{"x":6.0,"y":6.61},{"x":6.5,"y":6.42},{"x":6.0,"y":5.64},{"x":7.4,"y":6.47},{"x":8.6,"y":6.19},{"x":7.7,"y":9.31},{"x":10.8,"y":8.42},{"x":10.8,"y":8.28},{"x":11.0,"y":8.08},{"x":13.5,"y":8.14},{"x":14.9,"y":9.31},{"x":15.5,"y":9.47},{"x":3.6,"y":6.33},{"x":4.2,"y":6.53}]},
    "mark": {"type": "point", "filled": false, "size": 18, "strokeWidth": 0.9, "color": "#555"},
    "encoding": {
     "x": {"field": "x", "type": "quantitative", "scale": {"domain": [-21, 17], "nice": false, "zero": false}, "axis": {"values": [-20,-15,-10,-5,0,5,10,15], "tickCount": 100, "format": "d", "labelExpr": "datum.value % 15 == 0 ? datum.label : ''", "tickSize": {"condition": {"test": "datum.value % 15 == 0", "value": 4}, "value": 2.5}, "labelOverlap": false, "title": ["Score on latent variable", "1: CD8+ T-cells"], "titleLineHeight": 14}},
     "y": {"field": "y", "type": "quantitative", "scale": {"domain": [0, 10.05], "nice": false, "zero": false}, "axis": {"values": [0,1,2,3,4,5,6,7,8,9,10], "tickCount": 100, "format": "d", "labelExpr": "datum.value % 2 == 0 && datum.value > 0 ? datum.label : ''", "tickSize": {"condition": {"test": "datum.value % 2 == 0", "value": 4}, "value": 2.5}, "labelOverlap": false, "title": "Time since division (h)", "titlePadding": 5}}}},
   {"data": {"values": [{"x": -18.7, "y": 8.64, "a": "R", "b": "²=0.77 ± 0.03"}]},
    "layer": [
     {"mark": {"type": "text", "fontSize": 12, "fontStyle": "italic", "align": "left", "baseline": "alphabetic"}, "encoding": {"x": {"field": "x", "type": "quantitative"}, "y": {"field": "y", "type": "quantitative"}, "text": {"field": "a"}}},
     {"mark": {"type": "text", "fontSize": 12, "dx": 8.5, "align": "left", "baseline": "alphabetic"}, "encoding": {"x": {"field": "x", "type": "quantitative"}, "y": {"field": "y", "type": "quantitative"}, "text": {"field": "b"}}}
    ]},
   {"data": {"values": [{"x": -30.1, "y": 10.38, "t": "f"}]}, "mark": {"type": "text", "fontSize": 15, "fontWeight": "bold", "align": "left", "baseline": "alphabetic"}, "encoding": {"x": {"field": "x", "type": "quantitative"}, "y": {"field": "y", "type": "quantitative"}, "text": {"field": "t"}}}
  ]},
 {"width": 69, "height": 121, "data": {"values": []}, "mark": "point"},
 {"width": 149, "height": 121,
  "layer": [
   {"data": {"values": [
     {"x":-9.5,"y":1.16},{"x":-9.1,"y":0.66},{"x":-7.6,"y":2.57},{"x":-7.3,"y":2.80},{"x":-7.1,"y":2.30},{"x":-6.9,"y":1.81},{"x":-6.8,"y":1.43},{"x":-7.1,"y":0.97},{"x":-6.6,"y":1.16},{"x":-6.4,"y":2.50},{"x":-6.2,"y":2.80},{"x":-6.0,"y":2.30},{"x":-5.8,"y":2.80},{"x":-5.6,"y":1.35},{"x":-5.1,"y":2.42},{"x":-4.7,"y":2.57},{"x":-4.4,"y":2.30},{"x":-4.0,"y":2.42},{"x":-4.9,"y":4.41},{"x":-4.5,"y":0.66},{"x":-4.0,"y":1.27},{"x":-3.8,"y":4.87},{"x":-3.4,"y":4.49},{"x":-2.7,"y":1.73},{"x":-2.4,"y":3.84},{"x":-2.1,"y":4.72},{"x":-1.9,"y":2.80},{"x":-1.6,"y":4.41},{"x":-1.4,"y":4.41},{"x":-1.1,"y":1.81},{"x":-1.0,"y":1.35},{"x":-1.1,"y":0.39},{"x":-0.7,"y":0.39},{"x":-1.0,"y":3.84},{"x":-0.5,"y":4.60},{"x":-0.1,"y":4.72},{"x":0.1,"y":5.18},{"x":0.3,"y":5.18},{"x":0.7,"y":5.18},{"x":1.2,"y":5.18},{"x":0.7,"y":4.49},{"x":1.8,"y":7.78},{"x":1.0,"y":6.31},{"x":1.8,"y":6.24},{"x":1.6,"y":5.10},{"x":2.8,"y":6.63},{"x":3.4,"y":9.31},{"x":4.1,"y":9.20},{"x":3.8,"y":8.32},{"x":4.1,"y":7.55},{"x":4.0,"y":6.70},{"x":4.1,"y":6.40},{"x":3.4,"y":5.10},{"x":2.5,"y":5.10},{"x":4.9,"y":10.62},{"x":5.9,"y":8.16},{"x":6.4,"y":8.16},{"x":6.7,"y":7.86},{"x":6.6,"y":10.24},{"x":7.3,"y":10.24},{"x":9.5,"y":8.32},{"x":9.6,"y":11.61},{"x":9.8,"y":11.61},{"x":10.9,"y":11.50},{"x":11.2,"y":11.50},{"x":11.6,"y":11.50},{"x":9.9,"y":12.77},{"x":-2.7,"y":2.57}]},
    "mark": {"type": "point", "filled": false, "size": 18, "strokeWidth": 0.9, "color": "#555"},
    "encoding": {
     "x": {"field": "x", "type": "quantitative", "scale": {"domain": [-15, 14], "nice": false, "zero": false}, "axis": {"values": [-15,-10,-5,0,5,10], "tickCount": 100, "format": "d", "labelExpr": "datum.value % 10 == 0 ? datum.label : ''", "tickSize": {"condition": {"test": "datum.value % 10 == 0", "value": 4}, "value": 2.5}, "labelOverlap": false, "title": ["Score on latent variable", "1: L1210 cells"], "titleLineHeight": 14}},
     "y": {"field": "y", "type": "quantitative", "scale": {"domain": [0, 14], "nice": false, "zero": false}, "axis": {"values": [0,1,2,3,4,5,6,7,8,9,10,11,12,13,14], "tickCount": 100, "format": "d", "labelExpr": "(datum.value - 2) % 4 == 0 ? datum.label : ''", "tickSize": {"condition": {"test": "(datum.value - 2) % 4 == 0", "value": 4}, "value": 2.5}, "labelOverlap": false, "title": "Time since division (h)", "titlePadding": 5}}}},
   {"data": {"values": [{"x": -13.8, "y": 12.4, "a": "R", "b": "²=0.84 ± 0.02"}]},
    "layer": [
     {"mark": {"type": "text", "fontSize": 12, "fontStyle": "italic", "align": "left", "baseline": "alphabetic"}, "encoding": {"x": {"field": "x", "type": "quantitative"}, "y": {"field": "y", "type": "quantitative"}, "text": {"field": "a"}}},
     {"mark": {"type": "text", "fontSize": 12, "dx": 8.5, "align": "left", "baseline": "alphabetic"}, "encoding": {"x": {"field": "x", "type": "quantitative"}, "y": {"field": "y", "type": "quantitative"}, "text": {"field": "b"}}}
    ]},
   {"data": {"values": [{"x": -24.2, "y": 14.47, "t": "g"}]}, "mark": {"type": "text", "fontSize": 15, "fontWeight": "bold", "align": "left", "baseline": "alphabetic"}, "encoding": {"x": {"field": "x", "type": "quantitative"}, "y": {"field": "y", "type": "quantitative"}, "text": {"field": "t"}}}
  ]}
 ]}
]
}
